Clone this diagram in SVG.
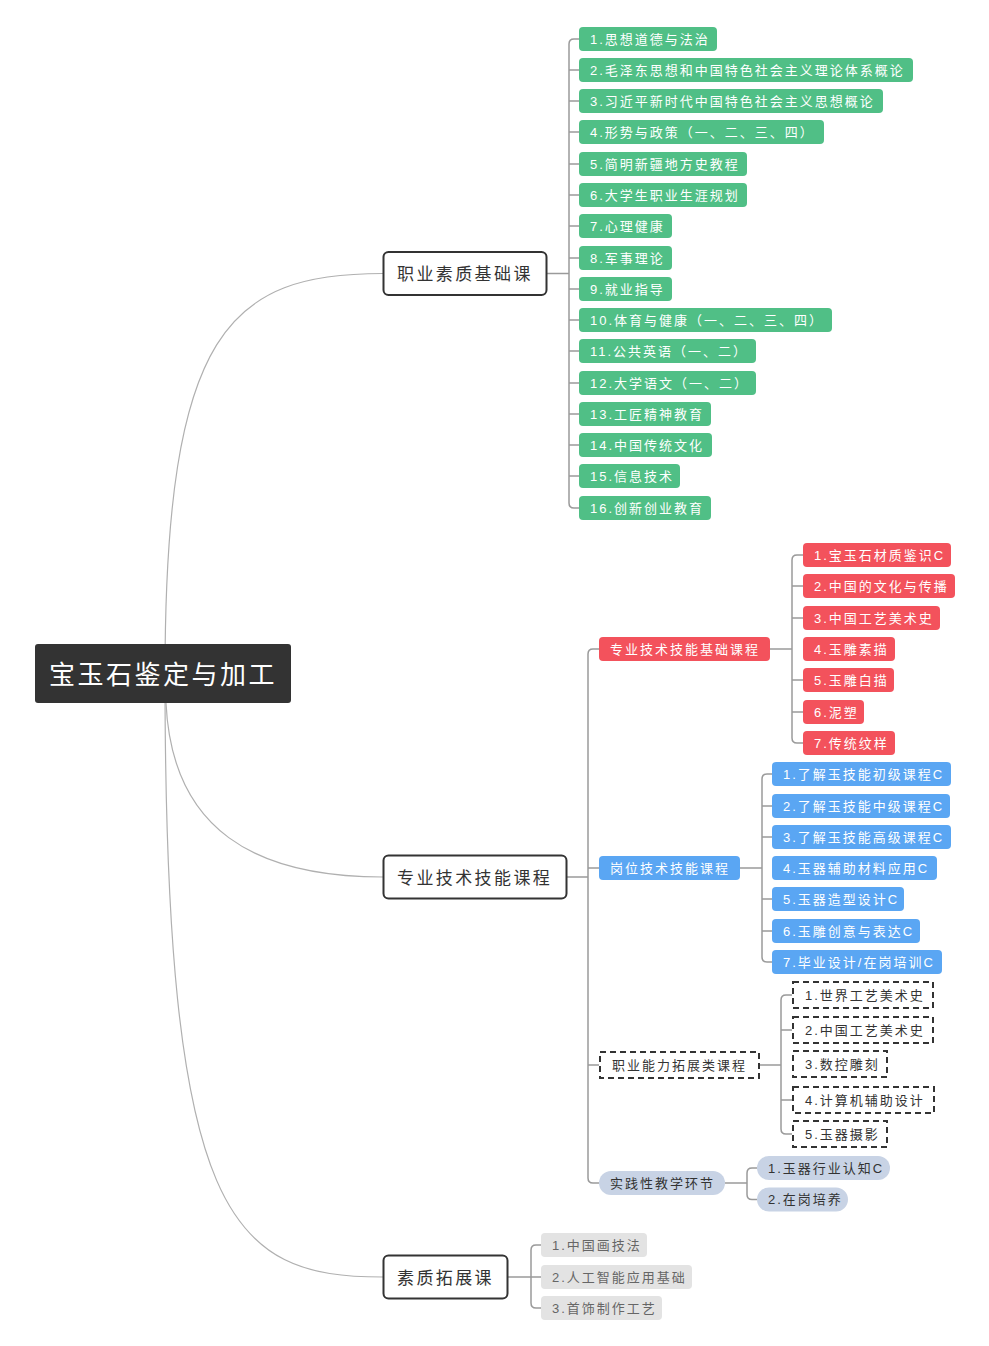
<svg xmlns="http://www.w3.org/2000/svg" width="989" height="1346" viewBox="0 0 989 1346">
<style>
text{font-family:"Liberation Sans","Noto Sans CJK SC",sans-serif;dominant-baseline:central}
.s{font-size:13px;letter-spacing:2px}
.w{fill:#fff}
.d{fill:#333}
.g{fill:#666}
.green{fill:#50bf86}
.red{fill:#f3525c}
.blue{fill:#5aa6f3}
.pill{fill:#c8d3e5}
.gray{fill:#e3e3e3}
.dash{fill:#fff;stroke:#333;stroke-width:2;stroke-dasharray:6 4}
.l1{fill:#fff;stroke:#333;stroke-width:2}
.l1t{font-size:17px;letter-spacing:2.4px;fill:#333}
.c{fill:none;stroke:#9a9a9a;stroke-width:1.5}
.rc{fill:none;stroke:#b0b0b0;stroke-width:1.2}
</style>
<g id="connectors">
<path class="rc" d="M165,675 C165,330 230,273.5 383,273.5"/>
<path class="rc" d="M166,703 C172,830 255,877 383,877"/>
<path class="rc" d="M165,675 C165,1220 230,1277 383,1277"/>
<!-- section 1 -->
<path class="c" d="M546,273.5 H569"/>
<path class="c" d="M579,39 H574 Q569,39 569,44 V503 Q569,508 574,508 H579"/>
<path class="c" d="M569,70 H579 M569,101 H579 M569,132 H579 M569,164 H579 M569,195 H579 M569,226 H579 M569,258 H579 M569,289 H579 M569,320 H579 M569,351 H579 M569,383 H579 M569,414 H579 M569,445 H579 M569,476 H579"/>
<!-- section 2 -->
<path class="c" d="M566,877 H588"/>
<path class="c" d="M599,649 H593 Q588,649 588,654 V1178 Q588,1183 593,1183 H599"/>
<path class="c" d="M588,868 H599 M588,1065 H599"/>
<path class="c" d="M770,649 H792"/>
<path class="c" d="M803,555 H797 Q792,555 792,560 V738 Q792,743 797,743 H803"/>
<path class="c" d="M792,586 H803 M792,618 H803 M792,680 H803 M792,712 H803"/>
<path class="c" d="M740,868 H762"/>
<path class="c" d="M772,774 H767 Q762,774 762,779 V957 Q762,962 767,962 H772"/>
<path class="c" d="M762,806 H772 M762,837 H772 M762,899 H772 M762,931 H772"/>
<path class="c" d="M759,1065 H781"/>
<path class="c" d="M792,995 H786 Q781,995 781,1000 V1129 Q781,1134 786,1134 H792"/>
<path class="c" d="M781,1030 H792 M781,1100 H792"/>
<path class="c" d="M725,1183 H747"/>
<path class="c" d="M757,1168 H752 Q747,1168 747,1173 V1194.5 Q747,1199.5 752,1199.5 H757"/>
<!-- section 3 -->
<path class="c" d="M507,1277 H531"/>
<path class="c" d="M541,1245 H536 Q531,1245 531,1250 V1303 Q531,1308 536,1308 H541"/>
<path class="c" d="M531,1277 H541"/>
</g>
<g id="root">
<rect x="35" y="644" width="256" height="59" rx="3" fill="#333"/>
<text x="49" y="675" style="font-size:26px;letter-spacing:2.5px" class="w">宝玉石鉴定与加工</text>
</g>
<g id="n-zhiye">
<rect class="l1" x="383.5" y="252" width="163" height="43" rx="5"/>
<text class="l1t" x="397" y="274">职业素质基础课</text>
</g>
<g id="n-zhuanye">
<rect class="l1" x="383.5" y="855.5" width="183" height="43" rx="5"/>
<text class="l1t" x="397" y="878">专业技术技能课程</text>
</g>
<g id="n-suzhi">
<rect class="l1" x="383.5" y="1255.5" width="124" height="43" rx="5"/>
<text class="l1t" x="397" y="1278">素质拓展课</text>
</g>
<g id="green-items">
<g id="g1"><rect class="green" x="579" y="27" width="138" height="24" rx="4"/><text class="s w" x="590" y="39">1.思想道德与法治</text></g>
<g id="g2"><rect class="green" x="579" y="58" width="334" height="24" rx="4"/><text class="s w" x="590" y="70">2.毛泽东思想和中国特色社会主义理论体系概论</text></g>
<g id="g3"><rect class="green" x="579" y="89" width="304" height="24" rx="4"/><text class="s w" x="590" y="101">3.习近平新时代中国特色社会主义思想概论</text></g>
<g id="g4"><rect class="green" x="579" y="120" width="245" height="24" rx="4"/><text class="s w" x="590" y="132">4.形势与政策（一、二、三、四）</text></g>
<g id="g5"><rect class="green" x="579" y="152" width="168" height="24" rx="4"/><text class="s w" x="590" y="164">5.简明新疆地方史教程</text></g>
<g id="g6"><rect class="green" x="579" y="183" width="168" height="24" rx="4"/><text class="s w" x="590" y="195">6.大学生职业生涯规划</text></g>
<g id="g7"><rect class="green" x="579" y="214" width="93" height="24" rx="4"/><text class="s w" x="590" y="226">7.心理健康</text></g>
<g id="g8"><rect class="green" x="579" y="246" width="93" height="24" rx="4"/><text class="s w" x="590" y="258">8.军事理论</text></g>
<g id="g9"><rect class="green" x="579" y="277" width="93" height="24" rx="4"/><text class="s w" x="590" y="289">9.就业指导</text></g>
<g id="g10"><rect class="green" x="579" y="308" width="253" height="24" rx="4"/><text class="s w" x="590" y="320">10.体育与健康（一、二、三、四）</text></g>
<g id="g11"><rect class="green" x="579" y="339" width="177" height="24" rx="4"/><text class="s w" x="590" y="351">11.公共英语（一、二）</text></g>
<g id="g12"><rect class="green" x="579" y="371" width="177" height="24" rx="4"/><text class="s w" x="590" y="383">12.大学语文（一、二）</text></g>
<g id="g13"><rect class="green" x="579" y="402" width="132" height="24" rx="4"/><text class="s w" x="590" y="414">13.工匠精神教育</text></g>
<g id="g14"><rect class="green" x="579" y="433" width="133" height="24" rx="4"/><text class="s w" x="590" y="445">14.中国传统文化</text></g>
<g id="g15"><rect class="green" x="579" y="464" width="101" height="24" rx="4"/><text class="s w" x="590" y="476">15.信息技术</text></g>
<g id="g16"><rect class="green" x="579" y="496" width="132" height="24" rx="4"/><text class="s w" x="590" y="508">16.创新创业教育</text></g>
</g>
<g id="n-jichu">
<rect class="red" x="599" y="637" width="171" height="24" rx="4"/><text class="s w" x="610" y="649">专业技术技能基础课程</text>
</g>
<g id="red-items">
<g id="r1"><rect class="red" x="803" y="543" width="148" height="24" rx="4"/><text class="s w" x="814" y="555">1.宝玉石材质鉴识C</text></g>
<g id="r2"><rect class="red" x="803" y="574" width="152" height="24" rx="4"/><text class="s w" x="814" y="586">2.中国的文化与传播</text></g>
<g id="r3"><rect class="red" x="803" y="606" width="137" height="24" rx="4"/><text class="s w" x="814" y="618">3.中国工艺美术史</text></g>
<g id="r4"><rect class="red" x="803" y="637" width="92" height="24" rx="4"/><text class="s w" x="814" y="649">4.玉雕素描</text></g>
<g id="r5"><rect class="red" x="803" y="668" width="91" height="24" rx="4"/><text class="s w" x="814" y="680">5.玉雕白描</text></g>
<g id="r6"><rect class="red" x="803" y="700" width="61" height="24" rx="4"/><text class="s w" x="814" y="712">6.泥塑</text></g>
<g id="r7"><rect class="red" x="803" y="731" width="92" height="24" rx="4"/><text class="s w" x="814" y="743">7.传统纹样</text></g>
</g>
<g id="n-gangwei">
<rect class="blue" x="599" y="856" width="141" height="24" rx="4"/><text class="s w" x="610" y="868">岗位技术技能课程</text>
</g>
<g id="blue-items">
<g id="b1"><rect class="blue" x="772" y="762" width="179" height="24" rx="4"/><text class="s w" x="783" y="774">1.了解玉技能初级课程C</text></g>
<g id="b2"><rect class="blue" x="772" y="794" width="178" height="24" rx="4"/><text class="s w" x="783" y="806">2.了解玉技能中级课程C</text></g>
<g id="b3"><rect class="blue" x="772" y="825" width="179" height="24" rx="4"/><text class="s w" x="783" y="837">3.了解玉技能高级课程C</text></g>
<g id="b4"><rect class="blue" x="772" y="856" width="165" height="24" rx="4"/><text class="s w" x="783" y="868">4.玉器辅助材料应用C</text></g>
<g id="b5"><rect class="blue" x="772" y="887" width="132" height="24" rx="4"/><text class="s w" x="783" y="899">5.玉器造型设计C</text></g>
<g id="b6"><rect class="blue" x="772" y="919" width="148" height="24" rx="4"/><text class="s w" x="783" y="931">6.玉雕创意与表达C</text></g>
<g id="b7"><rect class="blue" x="772" y="950" width="170" height="24" rx="4"/><text class="s w" x="783" y="962">7.毕业设计/在岗培训C</text></g>
</g>
<g id="n-tuozhan">
<rect class="dash" x="600" y="1052" width="159" height="26"/><text class="s d" x="612" y="1065">职业能力拓展类课程</text>
</g>
<g id="dash-items">
<g id="d1"><rect class="dash" x="793" y="982" width="140" height="26"/><text class="s d" x="805" y="995">1.世界工艺美术史</text></g>
<g id="d2"><rect class="dash" x="793" y="1017" width="140" height="26"/><text class="s d" x="805" y="1030">2.中国工艺美术史</text></g>
<g id="d3"><rect class="dash" x="793" y="1051" width="94" height="26"/><text class="s d" x="805" y="1064">3.数控雕刻</text></g>
<g id="d4"><rect class="dash" x="793" y="1087" width="141" height="26"/><text class="s d" x="805" y="1100">4.计算机辅助设计</text></g>
<g id="d5"><rect class="dash" x="793" y="1121" width="94" height="26"/><text class="s d" x="805" y="1134">5.玉器摄影</text></g>
</g>
<g id="n-shijian">
<rect class="pill" x="599" y="1171" width="126" height="24" rx="12"/><text class="s d" x="610" y="1183">实践性教学环节</text>
</g>
<g id="pill-items">
<g id="p1"><rect class="pill" x="757" y="1156" width="133" height="24" rx="12"/><text class="s d" x="768" y="1168">1.玉器行业认知C</text></g>
<g id="p2"><rect class="pill" x="757" y="1187.5" width="91" height="24" rx="12"/><text class="s d" x="768" y="1199.5">2.在岗培养</text></g>
</g>
<g id="gray-items">
<g id="y1"><rect class="gray" x="541" y="1233" width="106" height="24" rx="4"/><text class="s g" x="552" y="1245">1.中国画技法</text></g>
<g id="y2"><rect class="gray" x="541" y="1265" width="151" height="24" rx="4"/><text class="s g" x="552" y="1277">2.人工智能应用基础</text></g>
<g id="y3"><rect class="gray" x="541" y="1296" width="121" height="24" rx="4"/><text class="s g" x="552" y="1308">3.首饰制作工艺</text></g>
</g>
</svg>
